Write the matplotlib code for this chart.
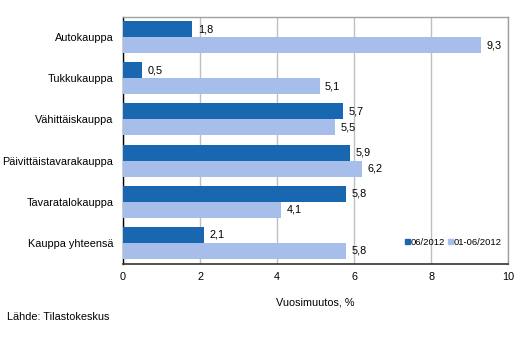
import matplotlib
matplotlib.use("Agg")
import matplotlib.pyplot as plt
import numpy as np
from matplotlib.patches import Patch

plt.rcParams['font.family'] = ['Liberation Sans', 'DejaVu Sans']
plt.rcParams['font.size'] = 7.8

categories = ["Autokauppa", "Tukkukauppa", "Vähittäiskauppa", "Päivittäistavarakauppa",
              "Tavaratalokauppa", "Kauppa yhteensä"]
series_names = ["06/2012", "01-06/2012"]
values_month = [1.8, 0.5, 5.7, 5.9, 5.8, 2.1]
values_period = [9.3, 5.1, 5.5, 6.2, 4.1, 5.8]
xticks = [0, 2, 4, 6, 8, 10]

dark = "#1A67B1"
light = "#A8BEEA"

fig = plt.figure(figsize=(5.32, 3.58), dpi=100)
ax = fig.add_axes([123/532, 1 - 263.5/358, (508.3-123)/532, (263.5-16.5)/358])

y = np.arange(len(categories))
h = 0.39
b1 = ax.barh(y - h/2, values_month, height=h, color=dark, zorder=3)
b2 = ax.barh(y + h/2, values_period, height=h, color=light, zorder=3)

def fmt(v):
    return f"{v:.1f}".replace(".", ",")

for bars, vals in ((b1, values_month), (b2, values_period)):
    for bar, v in zip(bars, vals):
        ax.annotate(fmt(v), (bar.get_width(), bar.get_y() + bar.get_height()/2),
                    xytext=(4, 0), textcoords="offset points", va="center", ha="left",
                    fontsize=7.8, color="black", zorder=4)

ax.set_xlim(0, 10)
ax.set_ylim(len(categories) - 0.5, -0.5)
ax.set_xticks(xticks)
ax.set_xticklabels([str(t) for t in xticks])
ax.set_yticks(y)
ax.set_yticklabels(categories)
ax.tick_params(axis='y', length=0, pad=7)
ax.tick_params(axis='x', length=0, pad=6)
ax.xaxis.grid(True, color="#BFBFBF", linewidth=1, zorder=0)
ax.set_axisbelow(True)

for s in ("top", "right"):
    ax.spines[s].set_color("#A0A0A0")
    ax.spines[s].set_linewidth(1)
ax.spines["left"].set_color("black")
ax.spines["bottom"].set_color("#333333")
ax.spines["left"].set_linewidth(1)
ax.spines["bottom"].set_linewidth(1.2)

ax.set_xlabel("Vuosimuutos, %", labelpad=11)

handles = [Patch(color=dark), Patch(color=light)]
ax.legend(handles, series_names, loc="lower right", bbox_to_anchor=(1.0, 0.04),
          frameon=False, ncol=2, handlelength=0.5, handleheight=0.5,
          handletextpad=0.1, columnspacing=0.3, fontsize=6.8, borderpad=0.2)

fig.text(7/532, 1 - 317/358, "Lähde: Tilastokeskus", ha="left", va="center", fontsize=7.8)

fig.savefig("out.png", dpi=100)
